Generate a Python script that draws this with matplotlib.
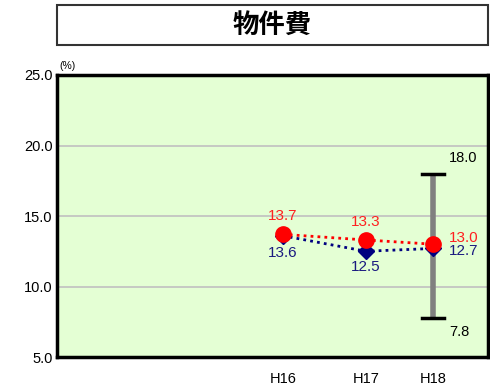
import matplotlib
matplotlib.use("Agg")
import matplotlib.pyplot as plt
from matplotlib.patches import Rectangle

plt.rcParams['font.family'] = ['Liberation Sans', 'Noto Sans CJK JP', 'DejaVu Sans']

# data
years = ["H16", "H17", "H18"]
city = [13.7, 13.3, 13.0]        # red series
group_avg = [13.6, 12.5, 12.7]   # navy series
range_max = 18.0
range_min = 7.8

# horizontal slots for the three years (uneven spacing)
xpos = [0.0, 1.0, 1.81]

fig = plt.figure(figsize=(4.9, 3.91), dpi=100)
ax = fig.add_axes([0.1163, 0.0869, 0.8796, 0.7213])
ax.set_facecolor("#E4FFD4")

ax.set_xlim(-2.72, 2.47)
ax.set_ylim(5, 25)
ax.set_yticks([5, 10, 15, 20, 25])
ax.set_yticklabels([f"{v:.1f}" for v in [5, 10, 15, 20, 25]], fontsize=10.5)
ax.set_xticks(xpos)
ax.set_xticklabels(years, fontsize=10.5)
ax.tick_params(axis="x", length=0, pad=11)
ax.tick_params(axis="y", length=0, pad=3)
for y in [10, 15, 20]:
    ax.axhline(y, color="#C0C0C0", lw=1.2, zorder=1)
for s in ax.spines.values():
    s.set_linewidth(2.5)
    s.set_color("black")

# min-max range bar at the latest year
xr = xpos[2]
ax.plot([xr, xr], [range_min, range_max], color="#808080", lw=4, zorder=2,
        solid_capstyle="butt")
for v in (range_min, range_max):
    ax.plot([xr - 0.13, xr + 0.13], [v, v], color="black", lw=2.5, zorder=3)
ax.text(xr + 0.19, range_max + 1.1, f"{range_max:.1f}", fontsize=10.5, va="center", ha="left")
ax.text(xr + 0.19, range_min - 1.0, f"{range_min:.1f}", fontsize=10.5, va="center", ha="left")

# series
ax.plot(xpos, group_avg, color="#000080", ls=(0, (1, 1.5)), lw=2, marker="D",
        ms=8, mfc="#000080", mec="#000080", zorder=4)
ax.plot(xpos, city, color="#FF0000", ls=(0, (1, 1.5)), lw=2, marker="o",
        ms=11, mfc="#FF0000", mec="#FF0000", zorder=5)

# value labels
red_txt = "#FF2020"
navy_txt = "#1A1A80"
ax.text(xpos[0], city[0] + 1.3, f"{city[0]:.1f}", color=red_txt, fontsize=11, ha="center", va="center")
ax.text(xpos[1], city[1] + 1.3, f"{city[1]:.1f}", color=red_txt, fontsize=11, ha="center", va="center")
ax.text(xpos[2] + 0.19, city[2] + 0.45, f"{city[2]:.1f}", color=red_txt, fontsize=11, ha="left", va="center")
ax.text(xpos[0], group_avg[0] - 1.25, f"{group_avg[0]:.1f}", color=navy_txt, fontsize=11, ha="center", va="center")
ax.text(xpos[1], group_avg[1] - 1.15, f"{group_avg[1]:.1f}", color=navy_txt, fontsize=11, ha="center", va="center")
ax.text(xpos[2] + 0.19, group_avg[2] - 0.2, f"{group_avg[2]:.1f}", color=navy_txt, fontsize=11, ha="left", va="center")

# unit label
fig.text(67 / 490, 1 - 66 / 391, "(%)", fontsize=7.5, ha="center", va="center")

# title box
fig.patches.append(Rectangle((57 / 490, 1 - 45 / 391), 431 / 490, 40 / 391,
                             transform=fig.transFigure, fill=False,
                             edgecolor="#333333", lw=1.5))
fig.text(272 / 490, 1 - 25 / 391, "物件費", fontsize=19, fontweight="bold",
         family=["Noto Sans CJK JP"], ha="center", va="center")

fig.savefig("out.png", dpi=100)
